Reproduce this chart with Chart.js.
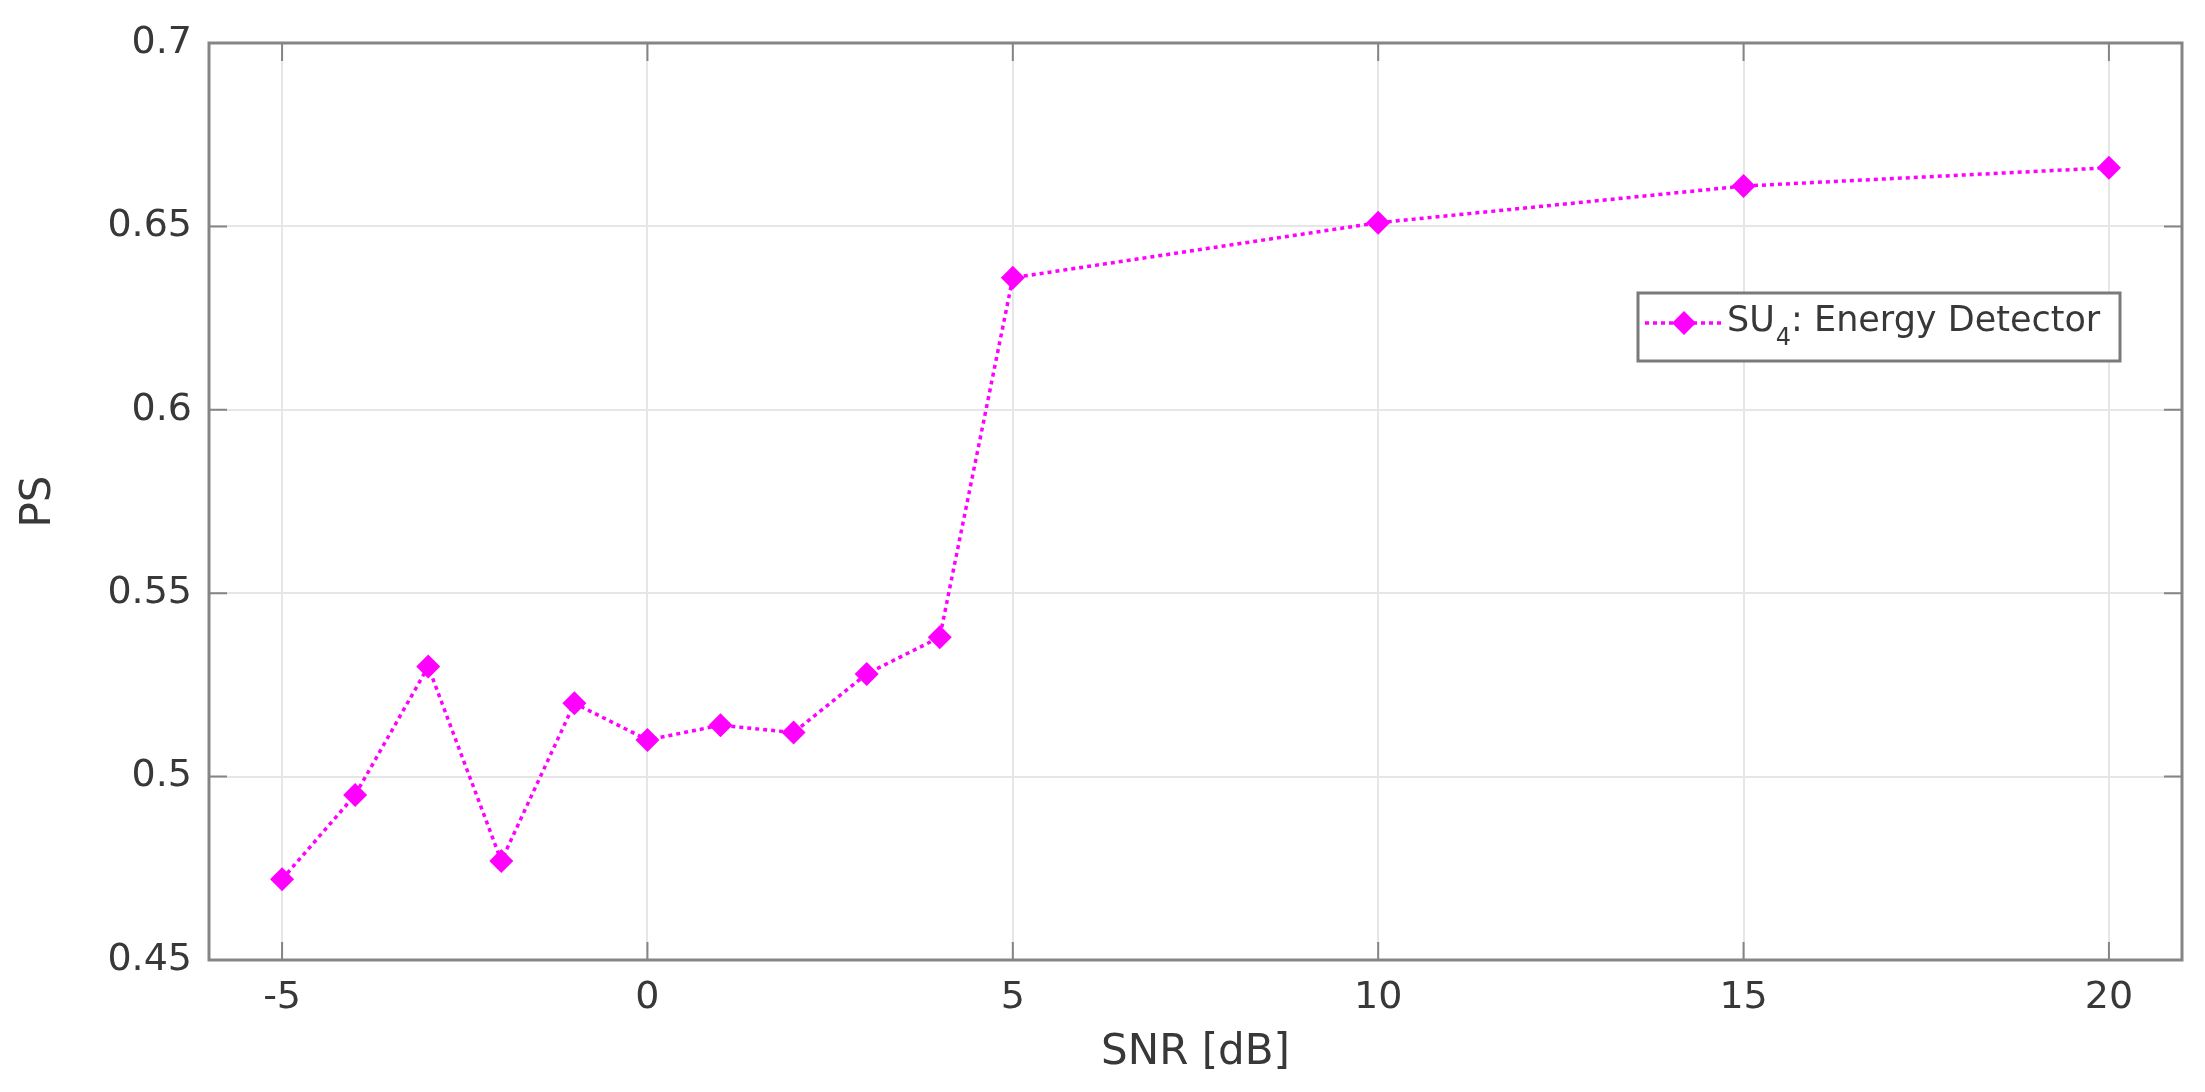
<!DOCTYPE html>
<html lang="en">
<head>
<meta charset="utf-8">
<title>PS vs SNR</title>
<script src="https://cdn.jsdelivr.net/npm/chart.js"></script>
<style>
  html, body { margin: 0; padding: 0; background: #fff; }
  #wrap { width: 2205px; height: 1092px; }
</style>
</head>
<body>
<div id="wrap"><canvas id="myChart"></canvas></div>
<script>
// data
const snr = [-5, -4, -3, -2, -1, 0, 1, 2, 3, 4, 5, 10, 15, 20];
const ps  = [0.472, 0.495, 0.530, 0.477, 0.520, 0.510, 0.514, 0.512, 0.528, 0.538, 0.636, 0.651, 0.661, 0.666];
const xTicks = [-5, 0, 5, 10, 15, 20];
const yTicks = [0.45, 0.5, 0.55, 0.6, 0.65, 0.7];
const seriesLabel = ['SU', '4', ': Energy Detector'];

const textColor = '#383838';
const boxColor = '#858585';
const magenta = '#ff00ff';

// axes box + inward ticks like matlab
const boxPlugin = {
    id: 'boxPlugin',
    beforeDatasetsDraw(chart) {
        const {ctx, chartArea: a, scales} = chart;
        const len = 18;
        ctx.save();
        ctx.strokeStyle = boxColor;
        ctx.lineWidth = 2;
        ctx.beginPath();
        xTicks.forEach(t => {
            const x = scales.x.getPixelForValue(t);
            ctx.moveTo(x, a.top); ctx.lineTo(x, a.top + len);
            ctx.moveTo(x, a.bottom); ctx.lineTo(x, a.bottom - len);
        });
        yTicks.forEach(t => {
            const y = scales.y.getPixelForValue(t);
            ctx.moveTo(a.left, y); ctx.lineTo(a.left + len, y);
            ctx.moveTo(a.right, y); ctx.lineTo(a.right - len, y);
        });
        ctx.stroke();
        ctx.lineWidth = 3;
        ctx.strokeRect(a.left, a.top, a.right - a.left, a.bottom - a.top);
        ctx.restore();
    }
};

// legend box with the subscript
const legendPlugin = {
    id: 'legendPlugin',
    afterDatasetsDraw(chart) {
        const {ctx, chartArea: a} = chart;
        const bx = a.right - 544, by = a.top + 250, bw = 482, bh = 68;
        const midY = by + 30;
        ctx.save();
        ctx.fillStyle = '#fff';
        ctx.fillRect(bx, by, bw, bh);
        ctx.strokeStyle = '#7a7a7a';
        ctx.lineWidth = 3;
        ctx.strokeRect(bx, by, bw, bh);

        ctx.strokeStyle = magenta;
        ctx.lineWidth = 3.5;
        ctx.setLineDash([4, 4]);
        ctx.beginPath();
        ctx.moveTo(bx + 7, midY); ctx.lineTo(bx + 85, midY);
        ctx.stroke();
        ctx.setLineDash([]);
        const cx = bx + 46, r = 12;
        ctx.fillStyle = magenta;
        ctx.beginPath();
        ctx.moveTo(cx - r, midY); ctx.lineTo(cx, midY - r);
        ctx.lineTo(cx + r, midY); ctx.lineTo(cx, midY + r);
        ctx.closePath();
        ctx.fill();

        ctx.fillStyle = textColor;
        ctx.textBaseline = 'alphabetic';
        let tx = bx + 89;
        const base = by + 38;
        ctx.font = '35px "DejaVu Sans"';
        ctx.fillText(seriesLabel[0], tx, base);
        tx += ctx.measureText(seriesLabel[0]).width + 1;
        ctx.font = '24px "DejaVu Sans"';
        ctx.fillText(seriesLabel[1], tx, base + 14);
        tx += ctx.measureText(seriesLabel[1]).width;
        ctx.font = '35px "DejaVu Sans"';
        ctx.fillText(seriesLabel[2], tx, base);
        ctx.restore();
    }
};

const ctx = document.getElementById('myChart').getContext('2d');
const myChart = new Chart(ctx, {
    type: 'line',
    data: {
        datasets: [{
            label: 'SU4: Energy Detector',
            data: snr.map((s, i) => ({x: s, y: ps[i]})),
            borderColor: magenta,
            backgroundColor: magenta,
            borderWidth: 3.5,
            borderDash: [4, 4],
            pointStyle: 'rectRot',
            pointRadius: 12,
            pointBorderWidth: 0,
            pointBackgroundColor: magenta,
            tension: 0
        }]
    },
    plugins: [boxPlugin, legendPlugin],
    options: {
        responsive: true,
        maintainAspectRatio: false,
        animation: false,
        layout: { padding: { top: 43, right: 23, left: 0, bottom: 0 } },
        plugins: {
            legend: { display: false },
            tooltip: { enabled: false }
        },
        scales: {
            x: {
                type: 'linear',
                min: -6,
                max: 21,
                afterBuildTicks: s => { s.ticks = xTicks.map(v => ({value: v})); },
                afterFit: s => { s.height = 132; },
                border: { display: false },
                grid: { color: '#e6e6e6', lineWidth: 2, drawTicks: false },
                ticks: {
                    color: textColor,
                    padding: 15,
                    maxRotation: 0,
                    font: { family: 'DejaVu Sans', size: 38 }
                },
                title: {
                    display: true,
                    text: 'SNR [dB]',
                    color: textColor,
                    padding: { top: 0, bottom: 14 },
                    font: { family: 'DejaVu Sans', size: 42 }
                }
            },
            y: {
                min: 0.45,
                max: 0.7,
                afterBuildTicks: s => { s.ticks = yTicks.map(v => ({value: v})); },
                afterFit: s => { s.width = 209; },
                border: { display: false },
                grid: { color: '#e6e6e6', lineWidth: 2, drawTicks: false },
                ticks: {
                    color: textColor,
                    padding: 17,
                    font: { family: 'DejaVu Sans', size: 38 },
                    callback: v => String(+v.toFixed(2))
                },
                title: {
                    display: true,
                    text: 'PS',
                    color: textColor,
                    padding: { top: 14, bottom: 0 },
                    font: { family: 'DejaVu Sans', size: 42 }
                }
            }
        }
    }
});
</script>
</body>
</html>
